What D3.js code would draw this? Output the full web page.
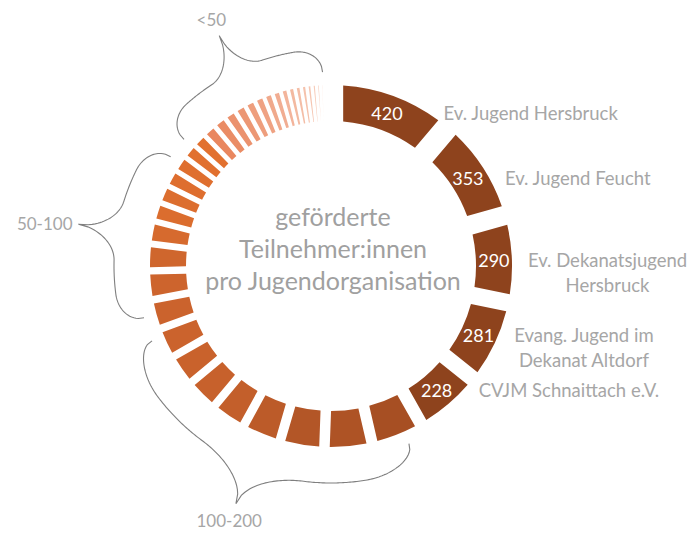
<!DOCTYPE html>
<html><head><meta charset="utf-8">
<script src="https://cdn.jsdelivr.net/npm/d3@7"></script>
<style>
body{margin:0;background:#fff}
svg{display:block}
text{font-family:Lato,"Open Sans",sans-serif}
</style>
</head><body>
<svg id="chart" width="700" height="533"></svg>
<script>
// ---- data ----
const categories = [
  ["Ev. Jugend Hersbruck"],
  ["Ev. Jugend Feucht"],
  ["Ev. Dekanatsjugend", "Hersbruck"],
  ["Evang. Jugend im", "Dekanat Altdorf"],
  ["CVJM Schnaittach e.V."]
];
const namedValues = [420, 353, 290, 281, 228];
const group100to200 = [172, 158, 148, 130, 116, 108, 104, 101];
const group50to100 = [99, 96, 90, 75, 64, 60, 57, 54];
const groupUnder50 = [49, 47, 45, 43, 40, 38, 35, 33, 30, 28, 25, 23, 21, 19, 17, 15, 13, 11, 9, 7, 5, 3];
const groupLabels = ["100-200", "50-100", "<50"];
const centerTitle = ["geförderte", "Teilnehmer:innen", "pro Jugendorganisation"];

// ---- layout ----
const cx = 331, cy = 266, R0 = 145, R1 = 181;
const svg = d3.select("#chart");
const g = svg.append("g").attr("transform", `translate(${cx},${cy})`);

const groups = [group100to200, group50to100, groupUnder50];
const data = [];
namedValues.forEach((v, i) => data.push({v, group: -1, i}));
groups.forEach((arr, k) => arr.forEach((v, i) => data.push({v, group: k, i})));

const arcs = d3.pie().value(d => d.v).sort(null)(data);
const padRadius = 200, explode = 31, border = 2.6;
arcs.forEach(a => {
  const th = a.endAngle - a.startAngle;
  const h = (explode * th + border) / 2;
  a.padAngle = 2 * Math.asin(Math.min(1, h / padRadius));
});
const arc = d3.arc().innerRadius(R0).outerRadius(R1).padRadius(padRadius);

const smallColor = d3.scaleLinear()
  .domain([175, 100, 47, 45, 3])
  .range(["#a64e23", "#cb632d", "#e2712f", "#e9875f", "#fde6dc"])
  .clamp(true);
const color = d => d.group < 0 ? "#8e431d" : smallColor(d.v);

g.selectAll("path.seg").data(arcs).join("path")
  .attr("class", "seg")
  .attr("d", arc)
  .attr("fill", d => color(d.data));

// value labels for named organisations
const labelArc = d3.arc().innerRadius((R0 + R1) / 2).outerRadius((R0 + R1) / 2);
const named = arcs.filter(a => a.data.group < 0);
g.selectAll("text.val").data(named).join("text")
  .attr("class", "val")
  .attr("x", d => labelArc.centroid(d)[0])
  .attr("y", d => labelArc.centroid(d)[1])
  .attr("text-anchor", "middle")
  .attr("dominant-baseline", "central")
  .attr("fill", "#fff")
  .attr("font-size", 18)
  .text(d => d.data.v);

// category labels
g.selectAll("text.cat").data(named).join("text")
  .attr("class", "cat")
  .attr("fill", "#a6a6a6")
  .attr("font-size", 18.5)
  .attr("dominant-baseline", "central")
  .each(function(d, idx) {
    const [, y] = labelArc.centroid(d);
    const x = Math.sqrt(R1 * R1 - y * y) + 16;
    const lines = categories[idx];
    const t = d3.select(this);
    t.selectAll("tspan").data(lines).join("tspan")
      .attr("x", x).attr("y", (l, j) => y + j * 25).text(l => l);
  })
  .each(function() {
    const tsp = d3.select(this).selectAll("tspan").nodes();
    if (tsp.length < 2) return;
    const x0 = +tsp[0].getAttribute("x");
    const w = tsp.map(n => n.getComputedTextLength());
    const mw = d3.max(w);
    tsp.forEach((n, j) => n.setAttribute("x", x0 + (mw - w[j]) / 2));
  });

// centre title
g.selectAll("text.title").data(centerTitle).join("text")
  .attr("class", "title")
  .attr("x", 2)
  .attr("y", (d, i) => (i - 1) * 32 - 8)
  .attr("text-anchor", "middle")
  .attr("fill", "#a0a0a0")
  .attr("font-size", 25)
  .text(d => d);

// group braces
const rEnd = 194, rBody = 217, rTip = 256;
const inset = 2.5 * Math.PI / 180;
const braceLine = d3.lineRadial().angle(p => p[0]).radius(p => p[1]).curve(d3.curveLinear);
let offset = namedValues.length;
groups.forEach((arr, k) => {
  const first = arcs[offset], last = arcs[offset + arr.length - 1];
  offset += arr.length;
  const a0 = first.startAngle + inset + first.padAngle, a1 = last.endAngle - inset;
  const pts = d3.range(0, 201).map(j => {
    const t = j / 200;
    const u = t <= 0.5 ? 2 * t : 2 * (1 - t);
    const s = 0.32, m = 0.32;
    let r;
    if (u < s) r = rEnd + (rBody - rEnd) * Math.sqrt(1 - Math.pow(1 - u / s, 2));
    else if (u > 1 - m) { const w = (u - (1 - m)) / m; r = rBody + (rTip - rBody) * (1 - Math.sqrt(Math.max(0, 1 - w * w))); }
    else r = rBody;
    return [a0 + (a1 - a0) * t, r];
  });
  g.append("path").attr("d", braceLine(pts))
    .attr("fill", "none").attr("stroke", "#7f7f7f").attr("stroke-width", 1.1);
  const mid = (a0 + a1) / 2, sn = Math.sin(mid);
  const anchor = sn < -0.8 ? "end" : sn > 0.8 ? "start" : "middle";
  const rl = anchor === "middle" ? 274 : 262;
  g.append("text")
    .attr("x", rl * Math.sin(mid)).attr("y", -rl * Math.cos(mid))
    .attr("text-anchor", anchor).attr("dominant-baseline", "central")
    .attr("fill", "#a6a6a6").attr("font-size", 17)
    .text(groupLabels[k]);
});
</script>
</body></html>
